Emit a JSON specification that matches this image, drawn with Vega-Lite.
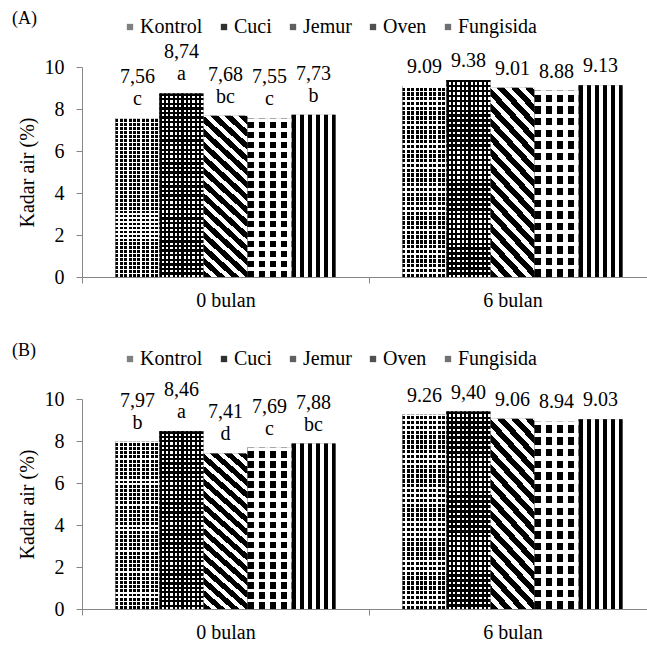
{
  "$schema": "https://vega.github.io/schema/vega-lite/v6.json",
  "padding": {"left": 12, "top": 10, "right": -9, "bottom": 0},
  "config": {
    "font": "Liberation Serif",
    "view": {"stroke": null},
    "axis": {"labelFont": "Liberation Serif", "titleFont": "Liberation Serif", "labelFontSize": 20, "labelColor": "#000", "titleFontSize": 20, "titleFontWeight": "normal", "titleColor": "#000", "domainColor": "#868686", "tickColor": "#868686", "grid": false},
    "legend": {"labelFont": "Liberation Serif", "labelFontSize": 20, "labelColor": "#000"},
    "title": {"font": "Liberation Serif", "fontSize": 18, "fontWeight": "normal", "color": "#000"},
    "text": {"font": "Liberation Serif"}
  },
  "data": {"values": [
    {"p": "A", "t": "0 bulan", "s": "Kontrol", "v": 7.56, "lab": "7,56\nc"},
    {"p": "A", "t": "0 bulan", "s": "Cuci", "v": 8.74, "lab": "8,74\na"},
    {"p": "A", "t": "0 bulan", "s": "Jemur", "v": 7.68, "lab": "7,68\nbc"},
    {"p": "A", "t": "0 bulan", "s": "Oven", "v": 7.55, "lab": "7,55\nc"},
    {"p": "A", "t": "0 bulan", "s": "Fungisida", "v": 7.73, "lab": "7,73\nb"},
    {"p": "A", "t": "6 bulan", "s": "Kontrol", "v": 9.09, "lab": "9.09"},
    {"p": "A", "t": "6 bulan", "s": "Cuci", "v": 9.38, "lab": "9.38"},
    {"p": "A", "t": "6 bulan", "s": "Jemur", "v": 9.01, "lab": "9.01"},
    {"p": "A", "t": "6 bulan", "s": "Oven", "v": 8.88, "lab": "8.88"},
    {"p": "A", "t": "6 bulan", "s": "Fungisida", "v": 9.13, "lab": "9.13"},
    {"p": "B", "t": "0 bulan", "s": "Kontrol", "v": 7.97, "lab": "7,97\nb"},
    {"p": "B", "t": "0 bulan", "s": "Cuci", "v": 8.46, "lab": "8,46\na"},
    {"p": "B", "t": "0 bulan", "s": "Jemur", "v": 7.41, "lab": "7,41\nd"},
    {"p": "B", "t": "0 bulan", "s": "Oven", "v": 7.69, "lab": "7,69\nc"},
    {"p": "B", "t": "0 bulan", "s": "Fungisida", "v": 7.88, "lab": "7,88\nbc"},
    {"p": "B", "t": "6 bulan", "s": "Kontrol", "v": 9.26, "lab": "9.26"},
    {"p": "B", "t": "6 bulan", "s": "Cuci", "v": 9.40, "lab": "9,40"},
    {"p": "B", "t": "6 bulan", "s": "Jemur", "v": 9.06, "lab": "9.06"},
    {"p": "B", "t": "6 bulan", "s": "Oven", "v": 8.94, "lab": "8.94"},
    {"p": "B", "t": "6 bulan", "s": "Fungisida", "v": 9.03, "lab": "9.03"}
  ]},
  "spacing": 32,
  "resolve": {"legend": {"color": "independent"}},
  "vconcat": [
    {
      "width": 574,
      "height": 210,
      "title": {"text": "(A)", "anchor": "start", "frame": "group", "dx": -70, "offset": -11},
      "transform": [{"filter": "datum.p === 'A'"}],
      "encoding": {
        "x": {"field": "t", "type": "nominal", "sort": ["0 bulan", "6 bulan"], "scale": {"paddingInner": 0, "paddingOuter": 0}, "axis": {"title": null, "labelAngle": 0, "tickBand": "extent", "tickSize": 6, "labelPadding": 7}},
        "xOffset": {"field": "s", "type": "nominal", "sort": ["Kontrol", "Cuci", "Jemur", "Oven", "Fungisida"], "scale": {"paddingInner": 0, "paddingOuter": 0.76}},
        "y": {"field": "v", "type": "quantitative", "scale": {"domain": [0, 10]}, "axis": {"values": [0, 2, 4, 6, 8, 10], "tickSize": 6, "labelPadding": 12, "title": "Kadar air (%)", "titleX": -54.5, "titleY": 105, "titleAngle": -90, "titleAlign": "center", "titleBaseline": "middle"}}
      },
      "layer": [
        {
          "mark": {"type": "bar", "opacity": 1},
          "encoding": {
            "color": {"field": "s", "type": "nominal", "sort": ["Kontrol", "Cuci", "Jemur", "Oven", "Fungisida"],
              "scale": {"domain": ["Kontrol", "Cuci", "Jemur", "Oven", "Fungisida"], "range": ["#808080", "#303030", "#606060", "#505050", "#707070"]},
              "legend": {"orient": "none", "legendX": 38, "legendY": -50, "direction": "horizontal", "title": null, "symbolType": "square", "symbolSize": 40, "symbolStrokeWidth": 0, "labelOffset": 0, "columnPadding": 11, "padding": 0,
                "encode": {"symbols": {"update": {"fillOpacity": {"value": 1}, "opacity": {"value": 1}, "fill": [
                  {"test": "datum.value === 'Kontrol'", "value": {"gradient": "linear", "x1": 0, "y1": 0, "x2": 1, "y2": 0, "stops": [
                    {"offset": 0, "color": "#000"}, {"offset": 0.17, "color": "#000"}, {"offset": 0.17, "color": "#fff"}, {"offset": 0.33, "color": "#fff"},
                    {"offset": 0.33, "color": "#000"}, {"offset": 0.5, "color": "#000"}, {"offset": 0.5, "color": "#fff"}, {"offset": 0.67, "color": "#fff"},
                    {"offset": 0.67, "color": "#000"}, {"offset": 0.83, "color": "#000"}, {"offset": 0.83, "color": "#fff"}, {"offset": 1, "color": "#fff"}]}},
                  {"test": "datum.value === 'Cuci'", "value": {"gradient": "linear", "x1": 0, "y1": 0, "x2": 0, "y2": 1, "stops": [
                    {"offset": 0, "color": "#000"}, {"offset": 0.25, "color": "#000"}, {"offset": 0.25, "color": "#fff"}, {"offset": 0.42, "color": "#fff"},
                    {"offset": 0.42, "color": "#000"}, {"offset": 0.58, "color": "#000"}, {"offset": 0.58, "color": "#fff"}, {"offset": 0.75, "color": "#fff"},
                    {"offset": 0.75, "color": "#000"}, {"offset": 1, "color": "#000"}]}},
                  {"test": "datum.value === 'Jemur'", "value": {"gradient": "linear", "x1": 0, "y1": 1, "x2": 1, "y2": 0, "stops": [
                    {"offset": 0, "color": "#000"}, {"offset": 0.3, "color": "#000"}, {"offset": 0.3, "color": "#fff"}, {"offset": 0.5, "color": "#fff"},
                    {"offset": 0.5, "color": "#000"}, {"offset": 0.8, "color": "#000"}, {"offset": 0.8, "color": "#fff"}, {"offset": 1, "color": "#fff"}]}},
                  {"test": "datum.value === 'Oven'", "value": {"gradient": "linear", "x1": 0, "y1": 0, "x2": 1, "y2": 0, "stops": [
                    {"offset": 0, "color": "#000"}, {"offset": 0.6, "color": "#000"}, {"offset": 0.6, "color": "#fff"}, {"offset": 0.75, "color": "#fff"},
                    {"offset": 0.75, "color": "#000"}, {"offset": 1, "color": "#000"}]}},
                  {"value": {"gradient": "linear", "x1": 0, "y1": 0, "x2": 1, "y2": 0, "stops": [
                    {"offset": 0, "color": "#000"}, {"offset": 0.3, "color": "#000"}, {"offset": 0.3, "color": "#fff"}, {"offset": 0.7, "color": "#fff"},
                    {"offset": 0.7, "color": "#000"}, {"offset": 1, "color": "#000"}]}}
                ]}}}
              }
            }
          }
        },
        {
          "mark": {"type": "bar"},
          "encoding": {
            "fill": {"condition": [
              {"test": "datum.s === 'Kontrol'", "value": {"gradient": "linear", "x1": 0, "y1": 0, "x2": 1, "y2": 0, "stops": [
                  {"offset": 0, "color": "#000"}, {"offset": 0.065, "color": "#000"}, {"offset": 0.065, "color": "#fff"}, {"offset": 0.1, "color": "#fff"},
                  {"offset": 0.1, "color": "#000"}, {"offset": 0.165, "color": "#000"}, {"offset": 0.165, "color": "#fff"}, {"offset": 0.2, "color": "#fff"},
                  {"offset": 0.2, "color": "#000"}, {"offset": 0.265, "color": "#000"}, {"offset": 0.265, "color": "#fff"}, {"offset": 0.3, "color": "#fff"},
                  {"offset": 0.3, "color": "#000"}, {"offset": 0.365, "color": "#000"}, {"offset": 0.365, "color": "#fff"}, {"offset": 0.4, "color": "#fff"},
                  {"offset": 0.4, "color": "#000"}, {"offset": 0.465, "color": "#000"}, {"offset": 0.465, "color": "#fff"}, {"offset": 0.5, "color": "#fff"},
                  {"offset": 0.5, "color": "#000"}, {"offset": 0.565, "color": "#000"}, {"offset": 0.565, "color": "#fff"}, {"offset": 0.6, "color": "#fff"},
                  {"offset": 0.6, "color": "#000"}, {"offset": 0.665, "color": "#000"}, {"offset": 0.665, "color": "#fff"}, {"offset": 0.7, "color": "#fff"},
                  {"offset": 0.7, "color": "#000"}, {"offset": 0.765, "color": "#000"}, {"offset": 0.765, "color": "#fff"}, {"offset": 0.8, "color": "#fff"},
                  {"offset": 0.8, "color": "#000"}, {"offset": 0.865, "color": "#000"}, {"offset": 0.865, "color": "#fff"}, {"offset": 0.9, "color": "#fff"},
                  {"offset": 0.9, "color": "#000"}, {"offset": 0.965, "color": "#000"}, {"offset": 0.965, "color": "#fff"}, {"offset": 1, "color": "#fff"}]}},
              {"test": "datum.s === 'Cuci'", "value": {"gradient": "linear", "x1": 0, "y1": 0, "x2": 1, "y2": 0, "stops": [
                  {"offset": 0, "color": "#000"}, {"offset": 0.05, "color": "#000"}, {"offset": 0.05, "color": "#fff"}, {"offset": 0.1, "color": "#fff"},
                  {"offset": 0.1, "color": "#000"}, {"offset": 0.15, "color": "#000"}, {"offset": 0.15, "color": "#fff"}, {"offset": 0.2, "color": "#fff"},
                  {"offset": 0.2, "color": "#000"}, {"offset": 0.25, "color": "#000"}, {"offset": 0.25, "color": "#fff"}, {"offset": 0.3, "color": "#fff"},
                  {"offset": 0.3, "color": "#000"}, {"offset": 0.35, "color": "#000"}, {"offset": 0.35, "color": "#fff"}, {"offset": 0.4, "color": "#fff"},
                  {"offset": 0.4, "color": "#000"}, {"offset": 0.45, "color": "#000"}, {"offset": 0.45, "color": "#fff"}, {"offset": 0.5, "color": "#fff"},
                  {"offset": 0.5, "color": "#000"}, {"offset": 0.55, "color": "#000"}, {"offset": 0.55, "color": "#fff"}, {"offset": 0.6, "color": "#fff"},
                  {"offset": 0.6, "color": "#000"}, {"offset": 0.65, "color": "#000"}, {"offset": 0.65, "color": "#fff"}, {"offset": 0.7, "color": "#fff"},
                  {"offset": 0.7, "color": "#000"}, {"offset": 0.75, "color": "#000"}, {"offset": 0.75, "color": "#fff"}, {"offset": 0.8, "color": "#fff"},
                  {"offset": 0.8, "color": "#000"}, {"offset": 0.85, "color": "#000"}, {"offset": 0.85, "color": "#fff"}, {"offset": 0.9, "color": "#fff"},
                  {"offset": 0.9, "color": "#000"}, {"offset": 0.95, "color": "#000"}, {"offset": 0.95, "color": "#fff"}, {"offset": 1, "color": "#fff"}]}},
              {"test": "datum.s === 'Jemur'", "value": {"gradient": "linear", "x1": 0, "y1": 1, "x2": 0.3, "y2": -0.2, "stops": [
                  {"offset": 0, "color": "#000"}, {"offset": 0.035, "color": "#000"}, {"offset": 0.035, "color": "#fff"}, {"offset": 0.0625, "color": "#fff"},
                  {"offset": 0.0625, "color": "#000"}, {"offset": 0.0975, "color": "#000"}, {"offset": 0.0975, "color": "#fff"}, {"offset": 0.125, "color": "#fff"},
                  {"offset": 0.125, "color": "#000"}, {"offset": 0.16, "color": "#000"}, {"offset": 0.16, "color": "#fff"}, {"offset": 0.1875, "color": "#fff"},
                  {"offset": 0.1875, "color": "#000"}, {"offset": 0.2225, "color": "#000"}, {"offset": 0.2225, "color": "#fff"}, {"offset": 0.25, "color": "#fff"},
                  {"offset": 0.25, "color": "#000"}, {"offset": 0.285, "color": "#000"}, {"offset": 0.285, "color": "#fff"}, {"offset": 0.3125, "color": "#fff"},
                  {"offset": 0.3125, "color": "#000"}, {"offset": 0.3475, "color": "#000"}, {"offset": 0.3475, "color": "#fff"}, {"offset": 0.375, "color": "#fff"},
                  {"offset": 0.375, "color": "#000"}, {"offset": 0.41, "color": "#000"}, {"offset": 0.41, "color": "#fff"}, {"offset": 0.4375, "color": "#fff"},
                  {"offset": 0.4375, "color": "#000"}, {"offset": 0.4725, "color": "#000"}, {"offset": 0.4725, "color": "#fff"}, {"offset": 0.5, "color": "#fff"},
                  {"offset": 0.5, "color": "#000"}, {"offset": 0.535, "color": "#000"}, {"offset": 0.535, "color": "#fff"}, {"offset": 0.5625, "color": "#fff"},
                  {"offset": 0.5625, "color": "#000"}, {"offset": 0.5975, "color": "#000"}, {"offset": 0.5975, "color": "#fff"}, {"offset": 0.625, "color": "#fff"},
                  {"offset": 0.625, "color": "#000"}, {"offset": 0.66, "color": "#000"}, {"offset": 0.66, "color": "#fff"}, {"offset": 0.6875, "color": "#fff"},
                  {"offset": 0.6875, "color": "#000"}, {"offset": 0.7225, "color": "#000"}, {"offset": 0.7225, "color": "#fff"}, {"offset": 0.75, "color": "#fff"},
                  {"offset": 0.75, "color": "#000"}, {"offset": 0.785, "color": "#000"}, {"offset": 0.785, "color": "#fff"}, {"offset": 0.8125, "color": "#fff"},
                  {"offset": 0.8125, "color": "#000"}, {"offset": 0.8475, "color": "#000"}, {"offset": 0.8475, "color": "#fff"}, {"offset": 0.875, "color": "#fff"},
                  {"offset": 0.875, "color": "#000"}, {"offset": 0.91, "color": "#000"}, {"offset": 0.91, "color": "#fff"}, {"offset": 0.9375, "color": "#fff"},
                  {"offset": 0.9375, "color": "#000"}, {"offset": 0.9725, "color": "#000"}, {"offset": 0.9725, "color": "#fff"}, {"offset": 1, "color": "#fff"}]}},
              {"test": "datum.s === 'Oven'", "value": {"gradient": "linear", "x1": 0, "y1": 0, "x2": 1, "y2": 0, "stops": [
                  {"offset": 0, "color": "#000"}, {"offset": 0.15, "color": "#000"}, {"offset": 0.15, "color": "#fff"}, {"offset": 0.25, "color": "#fff"},
                  {"offset": 0.25, "color": "#000"}, {"offset": 0.4, "color": "#000"}, {"offset": 0.4, "color": "#fff"}, {"offset": 0.5, "color": "#fff"},
                  {"offset": 0.5, "color": "#000"}, {"offset": 0.65, "color": "#000"}, {"offset": 0.65, "color": "#fff"}, {"offset": 0.75, "color": "#fff"},
                  {"offset": 0.75, "color": "#000"}, {"offset": 0.9, "color": "#000"}, {"offset": 0.9, "color": "#fff"}, {"offset": 1, "color": "#fff"}]}}
              ],
              "value": {"gradient": "linear", "x1": 0, "y1": 0, "x2": 1, "y2": 0, "stops": [
                  {"offset": 0, "color": "#000"}, {"offset": 0.0909, "color": "#000"}, {"offset": 0.0909, "color": "#fff"}, {"offset": 0.1818, "color": "#fff"},
                  {"offset": 0.1818, "color": "#000"}, {"offset": 0.2727, "color": "#000"}, {"offset": 0.2727, "color": "#fff"}, {"offset": 0.3636, "color": "#fff"},
                  {"offset": 0.3636, "color": "#000"}, {"offset": 0.4545, "color": "#000"}, {"offset": 0.4545, "color": "#fff"}, {"offset": 0.5455, "color": "#fff"},
                  {"offset": 0.5455, "color": "#000"}, {"offset": 0.6364, "color": "#000"}, {"offset": 0.6364, "color": "#fff"}, {"offset": 0.7273, "color": "#fff"},
                  {"offset": 0.7273, "color": "#000"}, {"offset": 0.8182, "color": "#000"}, {"offset": 0.8182, "color": "#fff"}, {"offset": 0.9091, "color": "#fff"},
                  {"offset": 0.9091, "color": "#000"}, {"offset": 1, "color": "#000"}]}
            }
          }
        },
        {
          "transform": [{"filter": "datum.s === 'Kontrol' || datum.s === 'Cuci' || datum.s === 'Oven'"}],
          "mark": {"type": "bar"},
          "encoding": {
            "fill": {"condition": [
              {"test": "datum.s === 'Kontrol'", "value": {"gradient": "linear", "x1": 0, "y1": 0, "x2": 0, "y2": 1, "stops": [
                  {"offset": 0, "color": "#fff"}, {"offset": 0.0075, "color": "#fff"}, {"offset": 0.0075, "color": "transparent"}, {"offset": 0.025, "color": "transparent"},
                  {"offset": 0.025, "color": "#fff"}, {"offset": 0.0325, "color": "#fff"}, {"offset": 0.0325, "color": "transparent"}, {"offset": 0.05, "color": "transparent"},
                  {"offset": 0.05, "color": "#fff"}, {"offset": 0.0575, "color": "#fff"}, {"offset": 0.0575, "color": "transparent"}, {"offset": 0.075, "color": "transparent"},
                  {"offset": 0.075, "color": "#fff"}, {"offset": 0.0825, "color": "#fff"}, {"offset": 0.0825, "color": "transparent"}, {"offset": 0.1, "color": "transparent"},
                  {"offset": 0.1, "color": "#fff"}, {"offset": 0.1075, "color": "#fff"}, {"offset": 0.1075, "color": "transparent"}, {"offset": 0.125, "color": "transparent"},
                  {"offset": 0.125, "color": "#fff"}, {"offset": 0.1325, "color": "#fff"}, {"offset": 0.1325, "color": "transparent"}, {"offset": 0.15, "color": "transparent"},
                  {"offset": 0.15, "color": "#fff"}, {"offset": 0.1575, "color": "#fff"}, {"offset": 0.1575, "color": "transparent"}, {"offset": 0.175, "color": "transparent"},
                  {"offset": 0.175, "color": "#fff"}, {"offset": 0.1825, "color": "#fff"}, {"offset": 0.1825, "color": "transparent"}, {"offset": 0.2, "color": "transparent"},
                  {"offset": 0.2, "color": "#fff"}, {"offset": 0.2075, "color": "#fff"}, {"offset": 0.2075, "color": "transparent"}, {"offset": 0.225, "color": "transparent"},
                  {"offset": 0.225, "color": "#fff"}, {"offset": 0.2325, "color": "#fff"}, {"offset": 0.2325, "color": "transparent"}, {"offset": 0.25, "color": "transparent"},
                  {"offset": 0.25, "color": "#fff"}, {"offset": 0.2575, "color": "#fff"}, {"offset": 0.2575, "color": "transparent"}, {"offset": 0.275, "color": "transparent"},
                  {"offset": 0.275, "color": "#fff"}, {"offset": 0.2825, "color": "#fff"}, {"offset": 0.2825, "color": "transparent"}, {"offset": 0.3, "color": "transparent"},
                  {"offset": 0.3, "color": "#fff"}, {"offset": 0.3075, "color": "#fff"}, {"offset": 0.3075, "color": "transparent"}, {"offset": 0.325, "color": "transparent"},
                  {"offset": 0.325, "color": "#fff"}, {"offset": 0.3325, "color": "#fff"}, {"offset": 0.3325, "color": "transparent"}, {"offset": 0.35, "color": "transparent"},
                  {"offset": 0.35, "color": "#fff"}, {"offset": 0.3575, "color": "#fff"}, {"offset": 0.3575, "color": "transparent"}, {"offset": 0.375, "color": "transparent"},
                  {"offset": 0.375, "color": "#fff"}, {"offset": 0.3825, "color": "#fff"}, {"offset": 0.3825, "color": "transparent"}, {"offset": 0.4, "color": "transparent"},
                  {"offset": 0.4, "color": "#fff"}, {"offset": 0.4075, "color": "#fff"}, {"offset": 0.4075, "color": "transparent"}, {"offset": 0.425, "color": "transparent"},
                  {"offset": 0.425, "color": "#fff"}, {"offset": 0.4325, "color": "#fff"}, {"offset": 0.4325, "color": "transparent"}, {"offset": 0.45, "color": "transparent"},
                  {"offset": 0.45, "color": "#fff"}, {"offset": 0.4575, "color": "#fff"}, {"offset": 0.4575, "color": "transparent"}, {"offset": 0.475, "color": "transparent"},
                  {"offset": 0.475, "color": "#fff"}, {"offset": 0.4825, "color": "#fff"}, {"offset": 0.4825, "color": "transparent"}, {"offset": 0.5, "color": "transparent"},
                  {"offset": 0.5, "color": "#fff"}, {"offset": 0.5075, "color": "#fff"}, {"offset": 0.5075, "color": "transparent"}, {"offset": 0.525, "color": "transparent"},
                  {"offset": 0.525, "color": "#fff"}, {"offset": 0.5325, "color": "#fff"}, {"offset": 0.5325, "color": "transparent"}, {"offset": 0.55, "color": "transparent"},
                  {"offset": 0.55, "color": "#fff"}, {"offset": 0.5575, "color": "#fff"}, {"offset": 0.5575, "color": "transparent"}, {"offset": 0.575, "color": "transparent"},
                  {"offset": 0.575, "color": "#fff"}, {"offset": 0.5825, "color": "#fff"}, {"offset": 0.5825, "color": "transparent"}, {"offset": 0.6, "color": "transparent"},
                  {"offset": 0.6, "color": "#fff"}, {"offset": 0.6075, "color": "#fff"}, {"offset": 0.6075, "color": "transparent"}, {"offset": 0.625, "color": "transparent"},
                  {"offset": 0.625, "color": "#fff"}, {"offset": 0.6325, "color": "#fff"}, {"offset": 0.6325, "color": "transparent"}, {"offset": 0.65, "color": "transparent"},
                  {"offset": 0.65, "color": "#fff"}, {"offset": 0.6575, "color": "#fff"}, {"offset": 0.6575, "color": "transparent"}, {"offset": 0.675, "color": "transparent"},
                  {"offset": 0.675, "color": "#fff"}, {"offset": 0.6825, "color": "#fff"}, {"offset": 0.6825, "color": "transparent"}, {"offset": 0.7, "color": "transparent"},
                  {"offset": 0.7, "color": "#fff"}, {"offset": 0.7075, "color": "#fff"}, {"offset": 0.7075, "color": "transparent"}, {"offset": 0.725, "color": "transparent"},
                  {"offset": 0.725, "color": "#fff"}, {"offset": 0.7325, "color": "#fff"}, {"offset": 0.7325, "color": "transparent"}, {"offset": 0.75, "color": "transparent"},
                  {"offset": 0.75, "color": "#fff"}, {"offset": 0.7575, "color": "#fff"}, {"offset": 0.7575, "color": "transparent"}, {"offset": 0.775, "color": "transparent"},
                  {"offset": 0.775, "color": "#fff"}, {"offset": 0.7825, "color": "#fff"}, {"offset": 0.7825, "color": "transparent"}, {"offset": 0.8, "color": "transparent"},
                  {"offset": 0.8, "color": "#fff"}, {"offset": 0.8075, "color": "#fff"}, {"offset": 0.8075, "color": "transparent"}, {"offset": 0.825, "color": "transparent"},
                  {"offset": 0.825, "color": "#fff"}, {"offset": 0.8325, "color": "#fff"}, {"offset": 0.8325, "color": "transparent"}, {"offset": 0.85, "color": "transparent"},
                  {"offset": 0.85, "color": "#fff"}, {"offset": 0.8575, "color": "#fff"}, {"offset": 0.8575, "color": "transparent"}, {"offset": 0.875, "color": "transparent"},
                  {"offset": 0.875, "color": "#fff"}, {"offset": 0.8825, "color": "#fff"}, {"offset": 0.8825, "color": "transparent"}, {"offset": 0.9, "color": "transparent"},
                  {"offset": 0.9, "color": "#fff"}, {"offset": 0.9075, "color": "#fff"}, {"offset": 0.9075, "color": "transparent"}, {"offset": 0.925, "color": "transparent"},
                  {"offset": 0.925, "color": "#fff"}, {"offset": 0.9325, "color": "#fff"}, {"offset": 0.9325, "color": "transparent"}, {"offset": 0.95, "color": "transparent"},
                  {"offset": 0.95, "color": "#fff"}, {"offset": 0.9575, "color": "#fff"}, {"offset": 0.9575, "color": "transparent"}, {"offset": 0.975, "color": "transparent"},
                  {"offset": 0.975, "color": "#fff"}, {"offset": 0.9825, "color": "#fff"}, {"offset": 0.9825, "color": "transparent"}, {"offset": 1, "color": "transparent"}]}},
              {"test": "datum.s === 'Cuci'", "value": {"gradient": "linear", "x1": 0, "y1": 0, "x2": 0, "y2": 1, "stops": [
                  {"offset": 0, "color": "#000"}, {"offset": 0.0125, "color": "#000"}, {"offset": 0.0125, "color": "transparent"}, {"offset": 0.025, "color": "transparent"},
                  {"offset": 0.025, "color": "#000"}, {"offset": 0.0375, "color": "#000"}, {"offset": 0.0375, "color": "transparent"}, {"offset": 0.05, "color": "transparent"},
                  {"offset": 0.05, "color": "#000"}, {"offset": 0.0625, "color": "#000"}, {"offset": 0.0625, "color": "transparent"}, {"offset": 0.075, "color": "transparent"},
                  {"offset": 0.075, "color": "#000"}, {"offset": 0.0875, "color": "#000"}, {"offset": 0.0875, "color": "transparent"}, {"offset": 0.1, "color": "transparent"},
                  {"offset": 0.1, "color": "#000"}, {"offset": 0.1125, "color": "#000"}, {"offset": 0.1125, "color": "transparent"}, {"offset": 0.125, "color": "transparent"},
                  {"offset": 0.125, "color": "#000"}, {"offset": 0.1375, "color": "#000"}, {"offset": 0.1375, "color": "transparent"}, {"offset": 0.15, "color": "transparent"},
                  {"offset": 0.15, "color": "#000"}, {"offset": 0.1625, "color": "#000"}, {"offset": 0.1625, "color": "transparent"}, {"offset": 0.175, "color": "transparent"},
                  {"offset": 0.175, "color": "#000"}, {"offset": 0.1875, "color": "#000"}, {"offset": 0.1875, "color": "transparent"}, {"offset": 0.2, "color": "transparent"},
                  {"offset": 0.2, "color": "#000"}, {"offset": 0.2125, "color": "#000"}, {"offset": 0.2125, "color": "transparent"}, {"offset": 0.225, "color": "transparent"},
                  {"offset": 0.225, "color": "#000"}, {"offset": 0.2375, "color": "#000"}, {"offset": 0.2375, "color": "transparent"}, {"offset": 0.25, "color": "transparent"},
                  {"offset": 0.25, "color": "#000"}, {"offset": 0.2625, "color": "#000"}, {"offset": 0.2625, "color": "transparent"}, {"offset": 0.275, "color": "transparent"},
                  {"offset": 0.275, "color": "#000"}, {"offset": 0.2875, "color": "#000"}, {"offset": 0.2875, "color": "transparent"}, {"offset": 0.3, "color": "transparent"},
                  {"offset": 0.3, "color": "#000"}, {"offset": 0.3125, "color": "#000"}, {"offset": 0.3125, "color": "transparent"}, {"offset": 0.325, "color": "transparent"},
                  {"offset": 0.325, "color": "#000"}, {"offset": 0.3375, "color": "#000"}, {"offset": 0.3375, "color": "transparent"}, {"offset": 0.35, "color": "transparent"},
                  {"offset": 0.35, "color": "#000"}, {"offset": 0.3625, "color": "#000"}, {"offset": 0.3625, "color": "transparent"}, {"offset": 0.375, "color": "transparent"},
                  {"offset": 0.375, "color": "#000"}, {"offset": 0.3875, "color": "#000"}, {"offset": 0.3875, "color": "transparent"}, {"offset": 0.4, "color": "transparent"},
                  {"offset": 0.4, "color": "#000"}, {"offset": 0.4125, "color": "#000"}, {"offset": 0.4125, "color": "transparent"}, {"offset": 0.425, "color": "transparent"},
                  {"offset": 0.425, "color": "#000"}, {"offset": 0.4375, "color": "#000"}, {"offset": 0.4375, "color": "transparent"}, {"offset": 0.45, "color": "transparent"},
                  {"offset": 0.45, "color": "#000"}, {"offset": 0.4625, "color": "#000"}, {"offset": 0.4625, "color": "transparent"}, {"offset": 0.475, "color": "transparent"},
                  {"offset": 0.475, "color": "#000"}, {"offset": 0.4875, "color": "#000"}, {"offset": 0.4875, "color": "transparent"}, {"offset": 0.5, "color": "transparent"},
                  {"offset": 0.5, "color": "#000"}, {"offset": 0.5125, "color": "#000"}, {"offset": 0.5125, "color": "transparent"}, {"offset": 0.525, "color": "transparent"},
                  {"offset": 0.525, "color": "#000"}, {"offset": 0.5375, "color": "#000"}, {"offset": 0.5375, "color": "transparent"}, {"offset": 0.55, "color": "transparent"},
                  {"offset": 0.55, "color": "#000"}, {"offset": 0.5625, "color": "#000"}, {"offset": 0.5625, "color": "transparent"}, {"offset": 0.575, "color": "transparent"},
                  {"offset": 0.575, "color": "#000"}, {"offset": 0.5875, "color": "#000"}, {"offset": 0.5875, "color": "transparent"}, {"offset": 0.6, "color": "transparent"},
                  {"offset": 0.6, "color": "#000"}, {"offset": 0.6125, "color": "#000"}, {"offset": 0.6125, "color": "transparent"}, {"offset": 0.625, "color": "transparent"},
                  {"offset": 0.625, "color": "#000"}, {"offset": 0.6375, "color": "#000"}, {"offset": 0.6375, "color": "transparent"}, {"offset": 0.65, "color": "transparent"},
                  {"offset": 0.65, "color": "#000"}, {"offset": 0.6625, "color": "#000"}, {"offset": 0.6625, "color": "transparent"}, {"offset": 0.675, "color": "transparent"},
                  {"offset": 0.675, "color": "#000"}, {"offset": 0.6875, "color": "#000"}, {"offset": 0.6875, "color": "transparent"}, {"offset": 0.7, "color": "transparent"},
                  {"offset": 0.7, "color": "#000"}, {"offset": 0.7125, "color": "#000"}, {"offset": 0.7125, "color": "transparent"}, {"offset": 0.725, "color": "transparent"},
                  {"offset": 0.725, "color": "#000"}, {"offset": 0.7375, "color": "#000"}, {"offset": 0.7375, "color": "transparent"}, {"offset": 0.75, "color": "transparent"},
                  {"offset": 0.75, "color": "#000"}, {"offset": 0.7625, "color": "#000"}, {"offset": 0.7625, "color": "transparent"}, {"offset": 0.775, "color": "transparent"},
                  {"offset": 0.775, "color": "#000"}, {"offset": 0.7875, "color": "#000"}, {"offset": 0.7875, "color": "transparent"}, {"offset": 0.8, "color": "transparent"},
                  {"offset": 0.8, "color": "#000"}, {"offset": 0.8125, "color": "#000"}, {"offset": 0.8125, "color": "transparent"}, {"offset": 0.825, "color": "transparent"},
                  {"offset": 0.825, "color": "#000"}, {"offset": 0.8375, "color": "#000"}, {"offset": 0.8375, "color": "transparent"}, {"offset": 0.85, "color": "transparent"},
                  {"offset": 0.85, "color": "#000"}, {"offset": 0.8625, "color": "#000"}, {"offset": 0.8625, "color": "transparent"}, {"offset": 0.875, "color": "transparent"},
                  {"offset": 0.875, "color": "#000"}, {"offset": 0.8875, "color": "#000"}, {"offset": 0.8875, "color": "transparent"}, {"offset": 0.9, "color": "transparent"},
                  {"offset": 0.9, "color": "#000"}, {"offset": 0.9125, "color": "#000"}, {"offset": 0.9125, "color": "transparent"}, {"offset": 0.925, "color": "transparent"},
                  {"offset": 0.925, "color": "#000"}, {"offset": 0.9375, "color": "#000"}, {"offset": 0.9375, "color": "transparent"}, {"offset": 0.95, "color": "transparent"},
                  {"offset": 0.95, "color": "#000"}, {"offset": 0.9625, "color": "#000"}, {"offset": 0.9625, "color": "transparent"}, {"offset": 0.975, "color": "transparent"},
                  {"offset": 0.975, "color": "#000"}, {"offset": 0.9875, "color": "#000"}, {"offset": 0.9875, "color": "transparent"}, {"offset": 1, "color": "transparent"}]}}
              ],
              "value": {"gradient": "linear", "x1": 0, "y1": 0, "x2": 0, "y2": 1, "stops": [
                  {"offset": 0, "color": "#fff"}, {"offset": 0.022, "color": "#fff"}, {"offset": 0.022, "color": "transparent"}, {"offset": 0.0625, "color": "transparent"},
                  {"offset": 0.0625, "color": "#fff"}, {"offset": 0.0845, "color": "#fff"}, {"offset": 0.0845, "color": "transparent"}, {"offset": 0.125, "color": "transparent"},
                  {"offset": 0.125, "color": "#fff"}, {"offset": 0.147, "color": "#fff"}, {"offset": 0.147, "color": "transparent"}, {"offset": 0.1875, "color": "transparent"},
                  {"offset": 0.1875, "color": "#fff"}, {"offset": 0.2095, "color": "#fff"}, {"offset": 0.2095, "color": "transparent"}, {"offset": 0.25, "color": "transparent"},
                  {"offset": 0.25, "color": "#fff"}, {"offset": 0.272, "color": "#fff"}, {"offset": 0.272, "color": "transparent"}, {"offset": 0.3125, "color": "transparent"},
                  {"offset": 0.3125, "color": "#fff"}, {"offset": 0.3345, "color": "#fff"}, {"offset": 0.3345, "color": "transparent"}, {"offset": 0.375, "color": "transparent"},
                  {"offset": 0.375, "color": "#fff"}, {"offset": 0.397, "color": "#fff"}, {"offset": 0.397, "color": "transparent"}, {"offset": 0.4375, "color": "transparent"},
                  {"offset": 0.4375, "color": "#fff"}, {"offset": 0.4595, "color": "#fff"}, {"offset": 0.4595, "color": "transparent"}, {"offset": 0.5, "color": "transparent"},
                  {"offset": 0.5, "color": "#fff"}, {"offset": 0.522, "color": "#fff"}, {"offset": 0.522, "color": "transparent"}, {"offset": 0.5625, "color": "transparent"},
                  {"offset": 0.5625, "color": "#fff"}, {"offset": 0.5845, "color": "#fff"}, {"offset": 0.5845, "color": "transparent"}, {"offset": 0.625, "color": "transparent"},
                  {"offset": 0.625, "color": "#fff"}, {"offset": 0.647, "color": "#fff"}, {"offset": 0.647, "color": "transparent"}, {"offset": 0.6875, "color": "transparent"},
                  {"offset": 0.6875, "color": "#fff"}, {"offset": 0.7095, "color": "#fff"}, {"offset": 0.7095, "color": "transparent"}, {"offset": 0.75, "color": "transparent"},
                  {"offset": 0.75, "color": "#fff"}, {"offset": 0.772, "color": "#fff"}, {"offset": 0.772, "color": "transparent"}, {"offset": 0.8125, "color": "transparent"},
                  {"offset": 0.8125, "color": "#fff"}, {"offset": 0.8345, "color": "#fff"}, {"offset": 0.8345, "color": "transparent"}, {"offset": 0.875, "color": "transparent"},
                  {"offset": 0.875, "color": "#fff"}, {"offset": 0.897, "color": "#fff"}, {"offset": 0.897, "color": "transparent"}, {"offset": 0.9375, "color": "transparent"},
                  {"offset": 0.9375, "color": "#fff"}, {"offset": 0.9595, "color": "#fff"}, {"offset": 0.9595, "color": "transparent"}, {"offset": 1, "color": "transparent"}]}
            }
          }
        },
        {
          "transform": [{"filter": "datum.t === '0 bulan'"}],
          "mark": {"type": "text", "baseline": "bottom", "dy": -31, "lineBreak": "\n", "lineHeight": 22, "fontSize": 20, "color": "#000", "font": "Liberation Serif"},
          "encoding": {"text": {"field": "lab"}}
        },
        {
          "transform": [{"filter": "datum.t === '6 bulan'"}],
          "mark": {"type": "text", "baseline": "bottom", "dy": -9, "fontSize": 20, "color": "#000", "font": "Liberation Serif"},
          "encoding": {"text": {"field": "lab"}}
        }
      ]
    },
    {
      "width": 574,
      "height": 210,
      "title": {"text": "(B)", "anchor": "start", "frame": "group", "dx": -70, "offset": -11},
      "transform": [{"filter": "datum.p === 'B'"}],
      "encoding": {
        "x": {"field": "t", "type": "nominal", "sort": ["0 bulan", "6 bulan"], "scale": {"paddingInner": 0, "paddingOuter": 0}, "axis": {"title": null, "labelAngle": 0, "tickBand": "extent", "tickSize": 6, "labelPadding": 7}},
        "xOffset": {"field": "s", "type": "nominal", "sort": ["Kontrol", "Cuci", "Jemur", "Oven", "Fungisida"], "scale": {"paddingInner": 0, "paddingOuter": 0.76}},
        "y": {"field": "v", "type": "quantitative", "scale": {"domain": [0, 10]}, "axis": {"values": [0, 2, 4, 6, 8, 10], "tickSize": 6, "labelPadding": 12, "title": "Kadar air (%)", "titleX": -54.5, "titleY": 105, "titleAngle": -90, "titleAlign": "center", "titleBaseline": "middle"}}
      },
      "layer": [
        {
          "mark": {"type": "bar", "opacity": 1},
          "encoding": {
            "color": {"field": "s", "type": "nominal", "sort": ["Kontrol", "Cuci", "Jemur", "Oven", "Fungisida"],
              "legend": {"orient": "none", "legendX": 38, "legendY": -50, "direction": "horizontal", "title": null, "symbolType": "square", "symbolSize": 40, "symbolStrokeWidth": 0, "labelOffset": 0, "columnPadding": 11, "padding": 0,
                "encode": {"symbols": {"update": {"fillOpacity": {"value": 1}, "opacity": {"value": 1}, "fill": [
                  {"test": "datum.value === 'Kontrol'", "value": {"gradient": "linear", "x1": 0, "y1": 0, "x2": 1, "y2": 0, "stops": [
                    {"offset": 0, "color": "#000"}, {"offset": 0.17, "color": "#000"}, {"offset": 0.17, "color": "#fff"}, {"offset": 0.33, "color": "#fff"},
                    {"offset": 0.33, "color": "#000"}, {"offset": 0.5, "color": "#000"}, {"offset": 0.5, "color": "#fff"}, {"offset": 0.67, "color": "#fff"},
                    {"offset": 0.67, "color": "#000"}, {"offset": 0.83, "color": "#000"}, {"offset": 0.83, "color": "#fff"}, {"offset": 1, "color": "#fff"}]}},
                  {"test": "datum.value === 'Cuci'", "value": {"gradient": "linear", "x1": 0, "y1": 0, "x2": 0, "y2": 1, "stops": [
                    {"offset": 0, "color": "#000"}, {"offset": 0.25, "color": "#000"}, {"offset": 0.25, "color": "#fff"}, {"offset": 0.42, "color": "#fff"},
                    {"offset": 0.42, "color": "#000"}, {"offset": 0.58, "color": "#000"}, {"offset": 0.58, "color": "#fff"}, {"offset": 0.75, "color": "#fff"},
                    {"offset": 0.75, "color": "#000"}, {"offset": 1, "color": "#000"}]}},
                  {"test": "datum.value === 'Jemur'", "value": {"gradient": "linear", "x1": 0, "y1": 1, "x2": 1, "y2": 0, "stops": [
                    {"offset": 0, "color": "#000"}, {"offset": 0.3, "color": "#000"}, {"offset": 0.3, "color": "#fff"}, {"offset": 0.5, "color": "#fff"},
                    {"offset": 0.5, "color": "#000"}, {"offset": 0.8, "color": "#000"}, {"offset": 0.8, "color": "#fff"}, {"offset": 1, "color": "#fff"}]}},
                  {"test": "datum.value === 'Oven'", "value": {"gradient": "linear", "x1": 0, "y1": 0, "x2": 1, "y2": 0, "stops": [
                    {"offset": 0, "color": "#000"}, {"offset": 0.6, "color": "#000"}, {"offset": 0.6, "color": "#fff"}, {"offset": 0.75, "color": "#fff"},
                    {"offset": 0.75, "color": "#000"}, {"offset": 1, "color": "#000"}]}},
                  {"value": {"gradient": "linear", "x1": 0, "y1": 0, "x2": 1, "y2": 0, "stops": [
                    {"offset": 0, "color": "#000"}, {"offset": 0.3, "color": "#000"}, {"offset": 0.3, "color": "#fff"}, {"offset": 0.7, "color": "#fff"},
                    {"offset": 0.7, "color": "#000"}, {"offset": 1, "color": "#000"}]}}
                ]}}}
              }
            }
          }
        },
        {
          "mark": {"type": "bar"},
          "encoding": {
            "fill": {"condition": [
              {"test": "datum.s === 'Kontrol'", "value": {"gradient": "linear", "x1": 0, "y1": 0, "x2": 1, "y2": 0, "stops": [
                  {"offset": 0, "color": "#000"}, {"offset": 0.065, "color": "#000"}, {"offset": 0.065, "color": "#fff"}, {"offset": 0.1, "color": "#fff"},
                  {"offset": 0.1, "color": "#000"}, {"offset": 0.165, "color": "#000"}, {"offset": 0.165, "color": "#fff"}, {"offset": 0.2, "color": "#fff"},
                  {"offset": 0.2, "color": "#000"}, {"offset": 0.265, "color": "#000"}, {"offset": 0.265, "color": "#fff"}, {"offset": 0.3, "color": "#fff"},
                  {"offset": 0.3, "color": "#000"}, {"offset": 0.365, "color": "#000"}, {"offset": 0.365, "color": "#fff"}, {"offset": 0.4, "color": "#fff"},
                  {"offset": 0.4, "color": "#000"}, {"offset": 0.465, "color": "#000"}, {"offset": 0.465, "color": "#fff"}, {"offset": 0.5, "color": "#fff"},
                  {"offset": 0.5, "color": "#000"}, {"offset": 0.565, "color": "#000"}, {"offset": 0.565, "color": "#fff"}, {"offset": 0.6, "color": "#fff"},
                  {"offset": 0.6, "color": "#000"}, {"offset": 0.665, "color": "#000"}, {"offset": 0.665, "color": "#fff"}, {"offset": 0.7, "color": "#fff"},
                  {"offset": 0.7, "color": "#000"}, {"offset": 0.765, "color": "#000"}, {"offset": 0.765, "color": "#fff"}, {"offset": 0.8, "color": "#fff"},
                  {"offset": 0.8, "color": "#000"}, {"offset": 0.865, "color": "#000"}, {"offset": 0.865, "color": "#fff"}, {"offset": 0.9, "color": "#fff"},
                  {"offset": 0.9, "color": "#000"}, {"offset": 0.965, "color": "#000"}, {"offset": 0.965, "color": "#fff"}, {"offset": 1, "color": "#fff"}]}},
              {"test": "datum.s === 'Cuci'", "value": {"gradient": "linear", "x1": 0, "y1": 0, "x2": 1, "y2": 0, "stops": [
                  {"offset": 0, "color": "#000"}, {"offset": 0.05, "color": "#000"}, {"offset": 0.05, "color": "#fff"}, {"offset": 0.1, "color": "#fff"},
                  {"offset": 0.1, "color": "#000"}, {"offset": 0.15, "color": "#000"}, {"offset": 0.15, "color": "#fff"}, {"offset": 0.2, "color": "#fff"},
                  {"offset": 0.2, "color": "#000"}, {"offset": 0.25, "color": "#000"}, {"offset": 0.25, "color": "#fff"}, {"offset": 0.3, "color": "#fff"},
                  {"offset": 0.3, "color": "#000"}, {"offset": 0.35, "color": "#000"}, {"offset": 0.35, "color": "#fff"}, {"offset": 0.4, "color": "#fff"},
                  {"offset": 0.4, "color": "#000"}, {"offset": 0.45, "color": "#000"}, {"offset": 0.45, "color": "#fff"}, {"offset": 0.5, "color": "#fff"},
                  {"offset": 0.5, "color": "#000"}, {"offset": 0.55, "color": "#000"}, {"offset": 0.55, "color": "#fff"}, {"offset": 0.6, "color": "#fff"},
                  {"offset": 0.6, "color": "#000"}, {"offset": 0.65, "color": "#000"}, {"offset": 0.65, "color": "#fff"}, {"offset": 0.7, "color": "#fff"},
                  {"offset": 0.7, "color": "#000"}, {"offset": 0.75, "color": "#000"}, {"offset": 0.75, "color": "#fff"}, {"offset": 0.8, "color": "#fff"},
                  {"offset": 0.8, "color": "#000"}, {"offset": 0.85, "color": "#000"}, {"offset": 0.85, "color": "#fff"}, {"offset": 0.9, "color": "#fff"},
                  {"offset": 0.9, "color": "#000"}, {"offset": 0.95, "color": "#000"}, {"offset": 0.95, "color": "#fff"}, {"offset": 1, "color": "#fff"}]}},
              {"test": "datum.s === 'Jemur'", "value": {"gradient": "linear", "x1": 0, "y1": 1, "x2": 0.3, "y2": -0.2, "stops": [
                  {"offset": 0, "color": "#000"}, {"offset": 0.035, "color": "#000"}, {"offset": 0.035, "color": "#fff"}, {"offset": 0.0625, "color": "#fff"},
                  {"offset": 0.0625, "color": "#000"}, {"offset": 0.0975, "color": "#000"}, {"offset": 0.0975, "color": "#fff"}, {"offset": 0.125, "color": "#fff"},
                  {"offset": 0.125, "color": "#000"}, {"offset": 0.16, "color": "#000"}, {"offset": 0.16, "color": "#fff"}, {"offset": 0.1875, "color": "#fff"},
                  {"offset": 0.1875, "color": "#000"}, {"offset": 0.2225, "color": "#000"}, {"offset": 0.2225, "color": "#fff"}, {"offset": 0.25, "color": "#fff"},
                  {"offset": 0.25, "color": "#000"}, {"offset": 0.285, "color": "#000"}, {"offset": 0.285, "color": "#fff"}, {"offset": 0.3125, "color": "#fff"},
                  {"offset": 0.3125, "color": "#000"}, {"offset": 0.3475, "color": "#000"}, {"offset": 0.3475, "color": "#fff"}, {"offset": 0.375, "color": "#fff"},
                  {"offset": 0.375, "color": "#000"}, {"offset": 0.41, "color": "#000"}, {"offset": 0.41, "color": "#fff"}, {"offset": 0.4375, "color": "#fff"},
                  {"offset": 0.4375, "color": "#000"}, {"offset": 0.4725, "color": "#000"}, {"offset": 0.4725, "color": "#fff"}, {"offset": 0.5, "color": "#fff"},
                  {"offset": 0.5, "color": "#000"}, {"offset": 0.535, "color": "#000"}, {"offset": 0.535, "color": "#fff"}, {"offset": 0.5625, "color": "#fff"},
                  {"offset": 0.5625, "color": "#000"}, {"offset": 0.5975, "color": "#000"}, {"offset": 0.5975, "color": "#fff"}, {"offset": 0.625, "color": "#fff"},
                  {"offset": 0.625, "color": "#000"}, {"offset": 0.66, "color": "#000"}, {"offset": 0.66, "color": "#fff"}, {"offset": 0.6875, "color": "#fff"},
                  {"offset": 0.6875, "color": "#000"}, {"offset": 0.7225, "color": "#000"}, {"offset": 0.7225, "color": "#fff"}, {"offset": 0.75, "color": "#fff"},
                  {"offset": 0.75, "color": "#000"}, {"offset": 0.785, "color": "#000"}, {"offset": 0.785, "color": "#fff"}, {"offset": 0.8125, "color": "#fff"},
                  {"offset": 0.8125, "color": "#000"}, {"offset": 0.8475, "color": "#000"}, {"offset": 0.8475, "color": "#fff"}, {"offset": 0.875, "color": "#fff"},
                  {"offset": 0.875, "color": "#000"}, {"offset": 0.91, "color": "#000"}, {"offset": 0.91, "color": "#fff"}, {"offset": 0.9375, "color": "#fff"},
                  {"offset": 0.9375, "color": "#000"}, {"offset": 0.9725, "color": "#000"}, {"offset": 0.9725, "color": "#fff"}, {"offset": 1, "color": "#fff"}]}},
              {"test": "datum.s === 'Oven'", "value": {"gradient": "linear", "x1": 0, "y1": 0, "x2": 1, "y2": 0, "stops": [
                  {"offset": 0, "color": "#000"}, {"offset": 0.15, "color": "#000"}, {"offset": 0.15, "color": "#fff"}, {"offset": 0.25, "color": "#fff"},
                  {"offset": 0.25, "color": "#000"}, {"offset": 0.4, "color": "#000"}, {"offset": 0.4, "color": "#fff"}, {"offset": 0.5, "color": "#fff"},
                  {"offset": 0.5, "color": "#000"}, {"offset": 0.65, "color": "#000"}, {"offset": 0.65, "color": "#fff"}, {"offset": 0.75, "color": "#fff"},
                  {"offset": 0.75, "color": "#000"}, {"offset": 0.9, "color": "#000"}, {"offset": 0.9, "color": "#fff"}, {"offset": 1, "color": "#fff"}]}}
              ],
              "value": {"gradient": "linear", "x1": 0, "y1": 0, "x2": 1, "y2": 0, "stops": [
                  {"offset": 0, "color": "#000"}, {"offset": 0.0909, "color": "#000"}, {"offset": 0.0909, "color": "#fff"}, {"offset": 0.1818, "color": "#fff"},
                  {"offset": 0.1818, "color": "#000"}, {"offset": 0.2727, "color": "#000"}, {"offset": 0.2727, "color": "#fff"}, {"offset": 0.3636, "color": "#fff"},
                  {"offset": 0.3636, "color": "#000"}, {"offset": 0.4545, "color": "#000"}, {"offset": 0.4545, "color": "#fff"}, {"offset": 0.5455, "color": "#fff"},
                  {"offset": 0.5455, "color": "#000"}, {"offset": 0.6364, "color": "#000"}, {"offset": 0.6364, "color": "#fff"}, {"offset": 0.7273, "color": "#fff"},
                  {"offset": 0.7273, "color": "#000"}, {"offset": 0.8182, "color": "#000"}, {"offset": 0.8182, "color": "#fff"}, {"offset": 0.9091, "color": "#fff"},
                  {"offset": 0.9091, "color": "#000"}, {"offset": 1, "color": "#000"}]}
            }
          }
        },
        {
          "transform": [{"filter": "datum.s === 'Kontrol' || datum.s === 'Cuci' || datum.s === 'Oven'"}],
          "mark": {"type": "bar"},
          "encoding": {
            "fill": {"condition": [
              {"test": "datum.s === 'Kontrol'", "value": {"gradient": "linear", "x1": 0, "y1": 0, "x2": 0, "y2": 1, "stops": [
                  {"offset": 0, "color": "#fff"}, {"offset": 0.0075, "color": "#fff"}, {"offset": 0.0075, "color": "transparent"}, {"offset": 0.025, "color": "transparent"},
                  {"offset": 0.025, "color": "#fff"}, {"offset": 0.0325, "color": "#fff"}, {"offset": 0.0325, "color": "transparent"}, {"offset": 0.05, "color": "transparent"},
                  {"offset": 0.05, "color": "#fff"}, {"offset": 0.0575, "color": "#fff"}, {"offset": 0.0575, "color": "transparent"}, {"offset": 0.075, "color": "transparent"},
                  {"offset": 0.075, "color": "#fff"}, {"offset": 0.0825, "color": "#fff"}, {"offset": 0.0825, "color": "transparent"}, {"offset": 0.1, "color": "transparent"},
                  {"offset": 0.1, "color": "#fff"}, {"offset": 0.1075, "color": "#fff"}, {"offset": 0.1075, "color": "transparent"}, {"offset": 0.125, "color": "transparent"},
                  {"offset": 0.125, "color": "#fff"}, {"offset": 0.1325, "color": "#fff"}, {"offset": 0.1325, "color": "transparent"}, {"offset": 0.15, "color": "transparent"},
                  {"offset": 0.15, "color": "#fff"}, {"offset": 0.1575, "color": "#fff"}, {"offset": 0.1575, "color": "transparent"}, {"offset": 0.175, "color": "transparent"},
                  {"offset": 0.175, "color": "#fff"}, {"offset": 0.1825, "color": "#fff"}, {"offset": 0.1825, "color": "transparent"}, {"offset": 0.2, "color": "transparent"},
                  {"offset": 0.2, "color": "#fff"}, {"offset": 0.2075, "color": "#fff"}, {"offset": 0.2075, "color": "transparent"}, {"offset": 0.225, "color": "transparent"},
                  {"offset": 0.225, "color": "#fff"}, {"offset": 0.2325, "color": "#fff"}, {"offset": 0.2325, "color": "transparent"}, {"offset": 0.25, "color": "transparent"},
                  {"offset": 0.25, "color": "#fff"}, {"offset": 0.2575, "color": "#fff"}, {"offset": 0.2575, "color": "transparent"}, {"offset": 0.275, "color": "transparent"},
                  {"offset": 0.275, "color": "#fff"}, {"offset": 0.2825, "color": "#fff"}, {"offset": 0.2825, "color": "transparent"}, {"offset": 0.3, "color": "transparent"},
                  {"offset": 0.3, "color": "#fff"}, {"offset": 0.3075, "color": "#fff"}, {"offset": 0.3075, "color": "transparent"}, {"offset": 0.325, "color": "transparent"},
                  {"offset": 0.325, "color": "#fff"}, {"offset": 0.3325, "color": "#fff"}, {"offset": 0.3325, "color": "transparent"}, {"offset": 0.35, "color": "transparent"},
                  {"offset": 0.35, "color": "#fff"}, {"offset": 0.3575, "color": "#fff"}, {"offset": 0.3575, "color": "transparent"}, {"offset": 0.375, "color": "transparent"},
                  {"offset": 0.375, "color": "#fff"}, {"offset": 0.3825, "color": "#fff"}, {"offset": 0.3825, "color": "transparent"}, {"offset": 0.4, "color": "transparent"},
                  {"offset": 0.4, "color": "#fff"}, {"offset": 0.4075, "color": "#fff"}, {"offset": 0.4075, "color": "transparent"}, {"offset": 0.425, "color": "transparent"},
                  {"offset": 0.425, "color": "#fff"}, {"offset": 0.4325, "color": "#fff"}, {"offset": 0.4325, "color": "transparent"}, {"offset": 0.45, "color": "transparent"},
                  {"offset": 0.45, "color": "#fff"}, {"offset": 0.4575, "color": "#fff"}, {"offset": 0.4575, "color": "transparent"}, {"offset": 0.475, "color": "transparent"},
                  {"offset": 0.475, "color": "#fff"}, {"offset": 0.4825, "color": "#fff"}, {"offset": 0.4825, "color": "transparent"}, {"offset": 0.5, "color": "transparent"},
                  {"offset": 0.5, "color": "#fff"}, {"offset": 0.5075, "color": "#fff"}, {"offset": 0.5075, "color": "transparent"}, {"offset": 0.525, "color": "transparent"},
                  {"offset": 0.525, "color": "#fff"}, {"offset": 0.5325, "color": "#fff"}, {"offset": 0.5325, "color": "transparent"}, {"offset": 0.55, "color": "transparent"},
                  {"offset": 0.55, "color": "#fff"}, {"offset": 0.5575, "color": "#fff"}, {"offset": 0.5575, "color": "transparent"}, {"offset": 0.575, "color": "transparent"},
                  {"offset": 0.575, "color": "#fff"}, {"offset": 0.5825, "color": "#fff"}, {"offset": 0.5825, "color": "transparent"}, {"offset": 0.6, "color": "transparent"},
                  {"offset": 0.6, "color": "#fff"}, {"offset": 0.6075, "color": "#fff"}, {"offset": 0.6075, "color": "transparent"}, {"offset": 0.625, "color": "transparent"},
                  {"offset": 0.625, "color": "#fff"}, {"offset": 0.6325, "color": "#fff"}, {"offset": 0.6325, "color": "transparent"}, {"offset": 0.65, "color": "transparent"},
                  {"offset": 0.65, "color": "#fff"}, {"offset": 0.6575, "color": "#fff"}, {"offset": 0.6575, "color": "transparent"}, {"offset": 0.675, "color": "transparent"},
                  {"offset": 0.675, "color": "#fff"}, {"offset": 0.6825, "color": "#fff"}, {"offset": 0.6825, "color": "transparent"}, {"offset": 0.7, "color": "transparent"},
                  {"offset": 0.7, "color": "#fff"}, {"offset": 0.7075, "color": "#fff"}, {"offset": 0.7075, "color": "transparent"}, {"offset": 0.725, "color": "transparent"},
                  {"offset": 0.725, "color": "#fff"}, {"offset": 0.7325, "color": "#fff"}, {"offset": 0.7325, "color": "transparent"}, {"offset": 0.75, "color": "transparent"},
                  {"offset": 0.75, "color": "#fff"}, {"offset": 0.7575, "color": "#fff"}, {"offset": 0.7575, "color": "transparent"}, {"offset": 0.775, "color": "transparent"},
                  {"offset": 0.775, "color": "#fff"}, {"offset": 0.7825, "color": "#fff"}, {"offset": 0.7825, "color": "transparent"}, {"offset": 0.8, "color": "transparent"},
                  {"offset": 0.8, "color": "#fff"}, {"offset": 0.8075, "color": "#fff"}, {"offset": 0.8075, "color": "transparent"}, {"offset": 0.825, "color": "transparent"},
                  {"offset": 0.825, "color": "#fff"}, {"offset": 0.8325, "color": "#fff"}, {"offset": 0.8325, "color": "transparent"}, {"offset": 0.85, "color": "transparent"},
                  {"offset": 0.85, "color": "#fff"}, {"offset": 0.8575, "color": "#fff"}, {"offset": 0.8575, "color": "transparent"}, {"offset": 0.875, "color": "transparent"},
                  {"offset": 0.875, "color": "#fff"}, {"offset": 0.8825, "color": "#fff"}, {"offset": 0.8825, "color": "transparent"}, {"offset": 0.9, "color": "transparent"},
                  {"offset": 0.9, "color": "#fff"}, {"offset": 0.9075, "color": "#fff"}, {"offset": 0.9075, "color": "transparent"}, {"offset": 0.925, "color": "transparent"},
                  {"offset": 0.925, "color": "#fff"}, {"offset": 0.9325, "color": "#fff"}, {"offset": 0.9325, "color": "transparent"}, {"offset": 0.95, "color": "transparent"},
                  {"offset": 0.95, "color": "#fff"}, {"offset": 0.9575, "color": "#fff"}, {"offset": 0.9575, "color": "transparent"}, {"offset": 0.975, "color": "transparent"},
                  {"offset": 0.975, "color": "#fff"}, {"offset": 0.9825, "color": "#fff"}, {"offset": 0.9825, "color": "transparent"}, {"offset": 1, "color": "transparent"}]}},
              {"test": "datum.s === 'Cuci'", "value": {"gradient": "linear", "x1": 0, "y1": 0, "x2": 0, "y2": 1, "stops": [
                  {"offset": 0, "color": "#000"}, {"offset": 0.0125, "color": "#000"}, {"offset": 0.0125, "color": "transparent"}, {"offset": 0.025, "color": "transparent"},
                  {"offset": 0.025, "color": "#000"}, {"offset": 0.0375, "color": "#000"}, {"offset": 0.0375, "color": "transparent"}, {"offset": 0.05, "color": "transparent"},
                  {"offset": 0.05, "color": "#000"}, {"offset": 0.0625, "color": "#000"}, {"offset": 0.0625, "color": "transparent"}, {"offset": 0.075, "color": "transparent"},
                  {"offset": 0.075, "color": "#000"}, {"offset": 0.0875, "color": "#000"}, {"offset": 0.0875, "color": "transparent"}, {"offset": 0.1, "color": "transparent"},
                  {"offset": 0.1, "color": "#000"}, {"offset": 0.1125, "color": "#000"}, {"offset": 0.1125, "color": "transparent"}, {"offset": 0.125, "color": "transparent"},
                  {"offset": 0.125, "color": "#000"}, {"offset": 0.1375, "color": "#000"}, {"offset": 0.1375, "color": "transparent"}, {"offset": 0.15, "color": "transparent"},
                  {"offset": 0.15, "color": "#000"}, {"offset": 0.1625, "color": "#000"}, {"offset": 0.1625, "color": "transparent"}, {"offset": 0.175, "color": "transparent"},
                  {"offset": 0.175, "color": "#000"}, {"offset": 0.1875, "color": "#000"}, {"offset": 0.1875, "color": "transparent"}, {"offset": 0.2, "color": "transparent"},
                  {"offset": 0.2, "color": "#000"}, {"offset": 0.2125, "color": "#000"}, {"offset": 0.2125, "color": "transparent"}, {"offset": 0.225, "color": "transparent"},
                  {"offset": 0.225, "color": "#000"}, {"offset": 0.2375, "color": "#000"}, {"offset": 0.2375, "color": "transparent"}, {"offset": 0.25, "color": "transparent"},
                  {"offset": 0.25, "color": "#000"}, {"offset": 0.2625, "color": "#000"}, {"offset": 0.2625, "color": "transparent"}, {"offset": 0.275, "color": "transparent"},
                  {"offset": 0.275, "color": "#000"}, {"offset": 0.2875, "color": "#000"}, {"offset": 0.2875, "color": "transparent"}, {"offset": 0.3, "color": "transparent"},
                  {"offset": 0.3, "color": "#000"}, {"offset": 0.3125, "color": "#000"}, {"offset": 0.3125, "color": "transparent"}, {"offset": 0.325, "color": "transparent"},
                  {"offset": 0.325, "color": "#000"}, {"offset": 0.3375, "color": "#000"}, {"offset": 0.3375, "color": "transparent"}, {"offset": 0.35, "color": "transparent"},
                  {"offset": 0.35, "color": "#000"}, {"offset": 0.3625, "color": "#000"}, {"offset": 0.3625, "color": "transparent"}, {"offset": 0.375, "color": "transparent"},
                  {"offset": 0.375, "color": "#000"}, {"offset": 0.3875, "color": "#000"}, {"offset": 0.3875, "color": "transparent"}, {"offset": 0.4, "color": "transparent"},
                  {"offset": 0.4, "color": "#000"}, {"offset": 0.4125, "color": "#000"}, {"offset": 0.4125, "color": "transparent"}, {"offset": 0.425, "color": "transparent"},
                  {"offset": 0.425, "color": "#000"}, {"offset": 0.4375, "color": "#000"}, {"offset": 0.4375, "color": "transparent"}, {"offset": 0.45, "color": "transparent"},
                  {"offset": 0.45, "color": "#000"}, {"offset": 0.4625, "color": "#000"}, {"offset": 0.4625, "color": "transparent"}, {"offset": 0.475, "color": "transparent"},
                  {"offset": 0.475, "color": "#000"}, {"offset": 0.4875, "color": "#000"}, {"offset": 0.4875, "color": "transparent"}, {"offset": 0.5, "color": "transparent"},
                  {"offset": 0.5, "color": "#000"}, {"offset": 0.5125, "color": "#000"}, {"offset": 0.5125, "color": "transparent"}, {"offset": 0.525, "color": "transparent"},
                  {"offset": 0.525, "color": "#000"}, {"offset": 0.5375, "color": "#000"}, {"offset": 0.5375, "color": "transparent"}, {"offset": 0.55, "color": "transparent"},
                  {"offset": 0.55, "color": "#000"}, {"offset": 0.5625, "color": "#000"}, {"offset": 0.5625, "color": "transparent"}, {"offset": 0.575, "color": "transparent"},
                  {"offset": 0.575, "color": "#000"}, {"offset": 0.5875, "color": "#000"}, {"offset": 0.5875, "color": "transparent"}, {"offset": 0.6, "color": "transparent"},
                  {"offset": 0.6, "color": "#000"}, {"offset": 0.6125, "color": "#000"}, {"offset": 0.6125, "color": "transparent"}, {"offset": 0.625, "color": "transparent"},
                  {"offset": 0.625, "color": "#000"}, {"offset": 0.6375, "color": "#000"}, {"offset": 0.6375, "color": "transparent"}, {"offset": 0.65, "color": "transparent"},
                  {"offset": 0.65, "color": "#000"}, {"offset": 0.6625, "color": "#000"}, {"offset": 0.6625, "color": "transparent"}, {"offset": 0.675, "color": "transparent"},
                  {"offset": 0.675, "color": "#000"}, {"offset": 0.6875, "color": "#000"}, {"offset": 0.6875, "color": "transparent"}, {"offset": 0.7, "color": "transparent"},
                  {"offset": 0.7, "color": "#000"}, {"offset": 0.7125, "color": "#000"}, {"offset": 0.7125, "color": "transparent"}, {"offset": 0.725, "color": "transparent"},
                  {"offset": 0.725, "color": "#000"}, {"offset": 0.7375, "color": "#000"}, {"offset": 0.7375, "color": "transparent"}, {"offset": 0.75, "color": "transparent"},
                  {"offset": 0.75, "color": "#000"}, {"offset": 0.7625, "color": "#000"}, {"offset": 0.7625, "color": "transparent"}, {"offset": 0.775, "color": "transparent"},
                  {"offset": 0.775, "color": "#000"}, {"offset": 0.7875, "color": "#000"}, {"offset": 0.7875, "color": "transparent"}, {"offset": 0.8, "color": "transparent"},
                  {"offset": 0.8, "color": "#000"}, {"offset": 0.8125, "color": "#000"}, {"offset": 0.8125, "color": "transparent"}, {"offset": 0.825, "color": "transparent"},
                  {"offset": 0.825, "color": "#000"}, {"offset": 0.8375, "color": "#000"}, {"offset": 0.8375, "color": "transparent"}, {"offset": 0.85, "color": "transparent"},
                  {"offset": 0.85, "color": "#000"}, {"offset": 0.8625, "color": "#000"}, {"offset": 0.8625, "color": "transparent"}, {"offset": 0.875, "color": "transparent"},
                  {"offset": 0.875, "color": "#000"}, {"offset": 0.8875, "color": "#000"}, {"offset": 0.8875, "color": "transparent"}, {"offset": 0.9, "color": "transparent"},
                  {"offset": 0.9, "color": "#000"}, {"offset": 0.9125, "color": "#000"}, {"offset": 0.9125, "color": "transparent"}, {"offset": 0.925, "color": "transparent"},
                  {"offset": 0.925, "color": "#000"}, {"offset": 0.9375, "color": "#000"}, {"offset": 0.9375, "color": "transparent"}, {"offset": 0.95, "color": "transparent"},
                  {"offset": 0.95, "color": "#000"}, {"offset": 0.9625, "color": "#000"}, {"offset": 0.9625, "color": "transparent"}, {"offset": 0.975, "color": "transparent"},
                  {"offset": 0.975, "color": "#000"}, {"offset": 0.9875, "color": "#000"}, {"offset": 0.9875, "color": "transparent"}, {"offset": 1, "color": "transparent"}]}}
              ],
              "value": {"gradient": "linear", "x1": 0, "y1": 0, "x2": 0, "y2": 1, "stops": [
                  {"offset": 0, "color": "#fff"}, {"offset": 0.022, "color": "#fff"}, {"offset": 0.022, "color": "transparent"}, {"offset": 0.0625, "color": "transparent"},
                  {"offset": 0.0625, "color": "#fff"}, {"offset": 0.0845, "color": "#fff"}, {"offset": 0.0845, "color": "transparent"}, {"offset": 0.125, "color": "transparent"},
                  {"offset": 0.125, "color": "#fff"}, {"offset": 0.147, "color": "#fff"}, {"offset": 0.147, "color": "transparent"}, {"offset": 0.1875, "color": "transparent"},
                  {"offset": 0.1875, "color": "#fff"}, {"offset": 0.2095, "color": "#fff"}, {"offset": 0.2095, "color": "transparent"}, {"offset": 0.25, "color": "transparent"},
                  {"offset": 0.25, "color": "#fff"}, {"offset": 0.272, "color": "#fff"}, {"offset": 0.272, "color": "transparent"}, {"offset": 0.3125, "color": "transparent"},
                  {"offset": 0.3125, "color": "#fff"}, {"offset": 0.3345, "color": "#fff"}, {"offset": 0.3345, "color": "transparent"}, {"offset": 0.375, "color": "transparent"},
                  {"offset": 0.375, "color": "#fff"}, {"offset": 0.397, "color": "#fff"}, {"offset": 0.397, "color": "transparent"}, {"offset": 0.4375, "color": "transparent"},
                  {"offset": 0.4375, "color": "#fff"}, {"offset": 0.4595, "color": "#fff"}, {"offset": 0.4595, "color": "transparent"}, {"offset": 0.5, "color": "transparent"},
                  {"offset": 0.5, "color": "#fff"}, {"offset": 0.522, "color": "#fff"}, {"offset": 0.522, "color": "transparent"}, {"offset": 0.5625, "color": "transparent"},
                  {"offset": 0.5625, "color": "#fff"}, {"offset": 0.5845, "color": "#fff"}, {"offset": 0.5845, "color": "transparent"}, {"offset": 0.625, "color": "transparent"},
                  {"offset": 0.625, "color": "#fff"}, {"offset": 0.647, "color": "#fff"}, {"offset": 0.647, "color": "transparent"}, {"offset": 0.6875, "color": "transparent"},
                  {"offset": 0.6875, "color": "#fff"}, {"offset": 0.7095, "color": "#fff"}, {"offset": 0.7095, "color": "transparent"}, {"offset": 0.75, "color": "transparent"},
                  {"offset": 0.75, "color": "#fff"}, {"offset": 0.772, "color": "#fff"}, {"offset": 0.772, "color": "transparent"}, {"offset": 0.8125, "color": "transparent"},
                  {"offset": 0.8125, "color": "#fff"}, {"offset": 0.8345, "color": "#fff"}, {"offset": 0.8345, "color": "transparent"}, {"offset": 0.875, "color": "transparent"},
                  {"offset": 0.875, "color": "#fff"}, {"offset": 0.897, "color": "#fff"}, {"offset": 0.897, "color": "transparent"}, {"offset": 0.9375, "color": "transparent"},
                  {"offset": 0.9375, "color": "#fff"}, {"offset": 0.9595, "color": "#fff"}, {"offset": 0.9595, "color": "transparent"}, {"offset": 1, "color": "transparent"}]}
            }
          }
        },
        {
          "transform": [{"filter": "datum.t === '0 bulan'"}],
          "mark": {"type": "text", "baseline": "bottom", "dy": -31, "lineBreak": "\n", "lineHeight": 22, "fontSize": 20, "color": "#000", "font": "Liberation Serif"},
          "encoding": {"text": {"field": "lab"}}
        },
        {
          "transform": [{"filter": "datum.t === '6 bulan'"}],
          "mark": {"type": "text", "baseline": "bottom", "dy": -9, "fontSize": 20, "color": "#000", "font": "Liberation Serif"},
          "encoding": {"text": {"field": "lab"}}
        }
      ]
    }
  ]
}
